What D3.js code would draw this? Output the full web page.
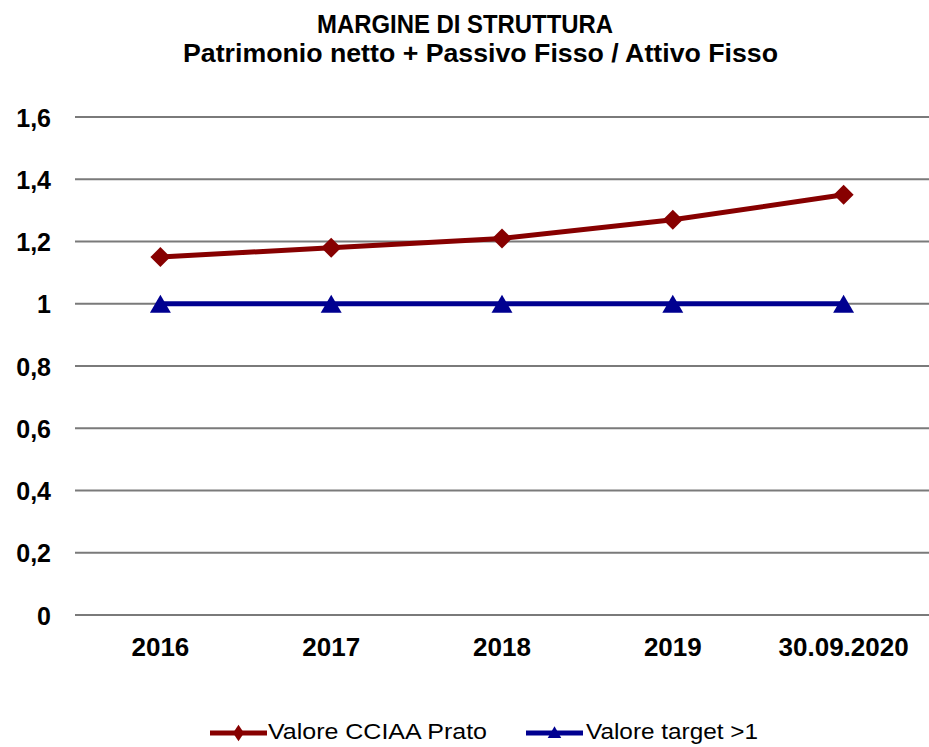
<!DOCTYPE html>
<html>
<head>
<meta charset="utf-8">
<script src="https://cdn.jsdelivr.net/npm/d3@7"></script>
<style>
  body { margin: 0; background: #fff; }
  text { font-family: "Liberation Sans", Arial, sans-serif; }
</style>
</head>
<body>
<div id="chart"></div>
<script>
const width = 929;
const height = 747;

// data
const categories = ["2016", "2017", "2018", "2019", "30.09.2020"];
const valoreCCIAA = [1.15, 1.18, 1.21, 1.27, 1.35];
const valoreTarget = [1, 1, 1, 1, 1];
const yTicks = [0, 0.2, 0.4, 0.6, 0.8, 1, 1.2, 1.4, 1.6];
const seriesNames = ["Valore CCIAA Prato", "Valore target >1"];

const plotLeft = 75, plotRight = 929, plotTop = 117, plotBottom = 615;

let svg = d3.select("#chart")
    .append("svg")
    .attr("width", width)
    .attr("height", height);

// scales
const xScale = d3.scaleBand()
    .domain(categories)
    .range([plotLeft, plotRight]);
const yScale = d3.scaleLinear()
    .domain([0, 1.6])
    .range([plotBottom, plotTop]);

// title
svg.append("text")
    .attr("x", 317).attr("y", 33)
    .attr("textLength", 296).attr("lengthAdjust", "spacingAndGlyphs")
    .style("font-size", "25px").style("font-weight", "bold")
    .text("MARGINE DI STRUTTURA");
svg.append("text")
    .attr("x", 183).attr("y", 62)
    .attr("textLength", 595).attr("lengthAdjust", "spacingAndGlyphs")
    .style("font-size", "25px").style("font-weight", "bold")
    .text("Patrimonio netto + Passivo Fisso / Attivo Fisso");

// gridlines
svg.append("g")
    .selectAll("line")
    .data(yTicks)
    .enter()
    .append("line")
    .attr("x1", plotLeft).attr("x2", plotRight)
    .attr("y1", d => yScale(d)).attr("y2", d => yScale(d))
    .attr("stroke", "#7a7a7a")
    .attr("stroke-width", 2);

// y axis labels
const fmt = d => String(d3.format(".1~f")(d)).replace(".", ",");
svg.append("g")
    .attr("transform", "translate(" + (plotLeft - 24) + ",0)")
    .call(d3.axisLeft(yScale).tickValues(yTicks).tickFormat(fmt).tickSize(0).tickPadding(0))
    .call(g => g.select(".domain").remove())
    .selectAll("text")
    .style("font-family", "Liberation Sans, Arial, sans-serif")
    .style("font-size", "25px")
    .style("font-weight", "bold")
    .attr("dy", "0.36em")
    .attr("fill", "#000");

// x axis labels
svg.append("g")
    .attr("transform", "translate(0," + plotBottom + ")")
    .call(d3.axisBottom(xScale).tickSize(0).tickPadding(23))
    .call(g => g.select(".domain").remove())
    .selectAll("text")
    .style("font-family", "Liberation Sans, Arial, sans-serif")
    .style("font-size", "26px")
    .style("font-weight", "bold")
    .attr("fill", "#000");

const cx = d => xScale(d) + xScale.bandwidth() / 2;

const line = d3.line()
    .x((d, i) => cx(categories[i]))
    .y(d => yScale(d));

const red = "#870000";
const blue = "#000090";

// target series
svg.append("path")
    .datum(valoreTarget)
    .attr("d", line)
    .attr("fill", "none")
    .attr("stroke", blue)
    .attr("stroke-width", 5);

svg.append("g")
    .selectAll("path")
    .data(valoreTarget)
    .enter()
    .append("path")
    .attr("d", d3.symbol().type(d3.symbolTriangle).size(190))
    .attr("transform", (d, i) => "translate(" + cx(categories[i]) + "," + (yScale(d) + 3) + ")")
    .attr("fill", blue);

// CCIAA series
svg.append("path")
    .datum(valoreCCIAA)
    .attr("d", line)
    .attr("fill", "none")
    .attr("stroke", red)
    .attr("stroke-width", 5);

svg.append("g")
    .selectAll("path")
    .data(valoreCCIAA)
    .enter()
    .append("path")
    .attr("d", d3.symbol().type(d3.symbolSquare).size(200))
    .attr("transform", (d, i) => "translate(" + cx(categories[i]) + "," + yScale(d) + ") rotate(45)")
    .attr("fill", red);

// legend
const legend = [
    { name: seriesNames[0], color: red, x: 210, len: 57, tx: 268, tl: 219, sym: d3.symbolSquare, rot: 45, size: 60, sy: 1.5 },
    { name: seriesNames[1], color: blue, x: 526, len: 57, tx: 586, tl: 172, sym: d3.symbolTriangle, rot: 0, size: 80, sy: 1 }
];
const lg = svg.append("g").attr("transform", "translate(0,733)");
legend.forEach(l => {
    lg.append("line")
        .attr("x1", l.x).attr("x2", l.x + l.len)
        .attr("y1", 0).attr("y2", 0)
        .attr("stroke", l.color).attr("stroke-width", 5);
    lg.append("path")
        .attr("d", d3.symbol().type(l.sym).size(l.size))
        .attr("transform", "translate(" + (l.x + l.len / 2) + "," + (l.rot ? 0 : 1) + ") scale(1," + l.sy + ") rotate(" + l.rot + ")")
        .attr("fill", l.color);
    lg.append("text")
        .attr("x", l.tx).attr("y", 739)
        .attr("transform", "translate(0,-733)")
        .attr("textLength", l.tl).attr("lengthAdjust", "spacingAndGlyphs")
        .style("font-size", "22px")
        .text(l.name);
});
</script>
</body>
</html>
